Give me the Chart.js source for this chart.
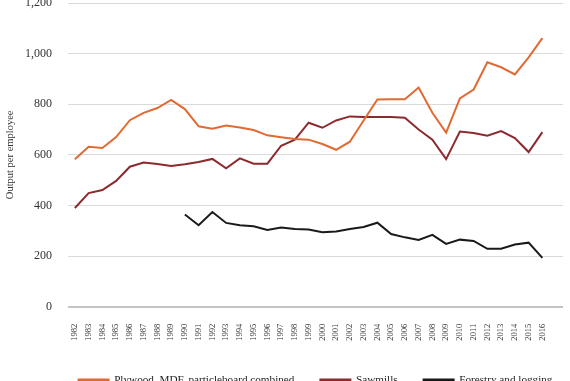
<!DOCTYPE html>
<html>
<head>
<meta charset="utf-8">
<script src="https://cdn.jsdelivr.net/npm/chart.js@4"></script>
<style>
  html, body { margin: 0; padding: 0; background: #ffffff; }
  #wrap { width: 570px; height: 381px; position: relative; }
</style>
</head>
<body>
<div id="wrap"><canvas id="c" width="570" height="381"></canvas></div>
<script>
const years = ['1982','1983','1984','1985','1986','1987','1988','1989','1990','1991','1992','1993','1994','1995','1996','1997','1998','1999','2000','2001','2002','2003','2004','2005','2006','2007','2008','2009','2010','2011','2012','2013','2014','2015','2016'];
const seriesNames = ['Plywood, MDF, particleboard combined', 'Sawmills', 'Forestry and logging'];
const plywood = [583, 632, 627, 670, 737, 766, 785, 817, 781, 713, 703, 716, 708, 698, 677, 670, 663, 660, 643, 620, 652, 736, 819, 820, 820, 866, 766, 688, 823, 858, 966, 946, 918, 985, 1061];
const sawmills = [390, 449, 461, 497, 553, 570, 564, 556, 563, 572, 584, 547, 586, 565, 565, 636, 660, 727, 707, 736, 752, 750, 750, 750, 747, 700, 660, 583, 692, 686, 676, 694, 666, 611, 690];
const forestry = [null, null, null, null, null, null, null, null, 364, 322, 374, 331, 322, 318, 303, 313, 307, 305, 294, 297, 307, 315, 332, 287, 274, 264, 284, 248, 265, 260, 229, 229, 246, 253, 193];
const yTicks = [0, 200, 400, 600, 800, 1000, 1200];
const yTitle = 'Output per employee';

const colors = ['#e06a33', '#8c2a2e', '#1a1a1a'];
const serif = '"Liberation Serif", "DejaVu Serif", serif';

const categories = years.concat(['']);

// keep the legend on one row (reference has all three items on a single line)
const legendOneRow = {
  id: 'legendOneRow',
  beforeLayout(chart) {
    const lg = chart.legend;
    if (lg && !lg._oneRow) {
      const origFit = lg._fitRows.bind(lg);
      lg._fitRows = function (...args) {
        const mw = this.maxWidth;
        this.maxWidth = 100000;
        const r = origFit(...args);
        this.maxWidth = mw;
        return r;
      };
      const origDraw = lg._draw.bind(lg);
      lg._draw = function (...args) {
        const l = this.left, r = this.right;
        this.left = l - 1000;
        this.right = r + 1000;
        const out = origDraw(...args);
        this.left = l;
        this.right = r;
        return out;
      };
      lg._oneRow = true;
    }
  }
};

new Chart(document.getElementById('c'), {
  type: 'line',
  data: {
    labels: categories,
    datasets: [plywood, sawmills, forestry].map((d, i) => ({
      label: seriesNames[i],
      data: d,
      borderColor: colors[i],
      backgroundColor: colors[i],
      borderWidth: 2,
      pointRadius: 0,
      tension: 0,
      spanGaps: false
    }))
  },
  plugins: [legendOneRow],
  options: {
    responsive: false,
    animation: false,
    events: [],
    layout: { padding: { left: 0, right: 7, top: 3, bottom: -14.6 } },
    plugins: {
      tooltip: { enabled: false },
      legend: {
        position: 'bottom',
        fullSize: false,
        labels: {
          boxWidth: 30,
          boxHeight: 1,
          padding: 26,
          color: '#222222',
          font: { family: serif, size: 11.2 }
        }
      }
    },
    scales: {
      x: {
        type: 'category',
        offset: true,
        grid: { display: false, drawTicks: false },
        border: { display: false },
        ticks: {
          autoSkip: false,
          minRotation: 90,
          maxRotation: 90,
          padding: 17,
          color: '#333333',
          font: { family: serif, size: 8.5 }
        },
        afterFit: (s) => { s.height = 41.7; s.paddingLeft = 0; s.paddingRight = 0; }
      },
      y: {
        min: 0,
        max: 1200,
        afterBuildTicks: (s) => { s.ticks = yTicks.map(v => ({ value: v })); },
        grid: {
          drawTicks: false,
          color: (ctx) => ctx.tick && ctx.tick.value === 0 ? '#c4c4c4' : '#dadada',
          lineWidth: (ctx) => ctx.tick && ctx.tick.value === 0 ? 2 : 1
        },
        border: { display: false },
        ticks: {
          padding: 16,
          color: '#333333',
          font: { family: serif, size: 12 },
          callback: (v) => v.toLocaleString('en-US')
        },
        title: {
          display: true,
          text: yTitle,
          color: '#333333',
          font: { family: serif, size: 10.5 },
          padding: { top: 4, bottom: 4 }
        },
        afterFit: (s) => { s.width = 68; s.paddingTop = 0; s.paddingBottom = 0; }
      }
    }
  }
});
</script>
</body>
</html>
